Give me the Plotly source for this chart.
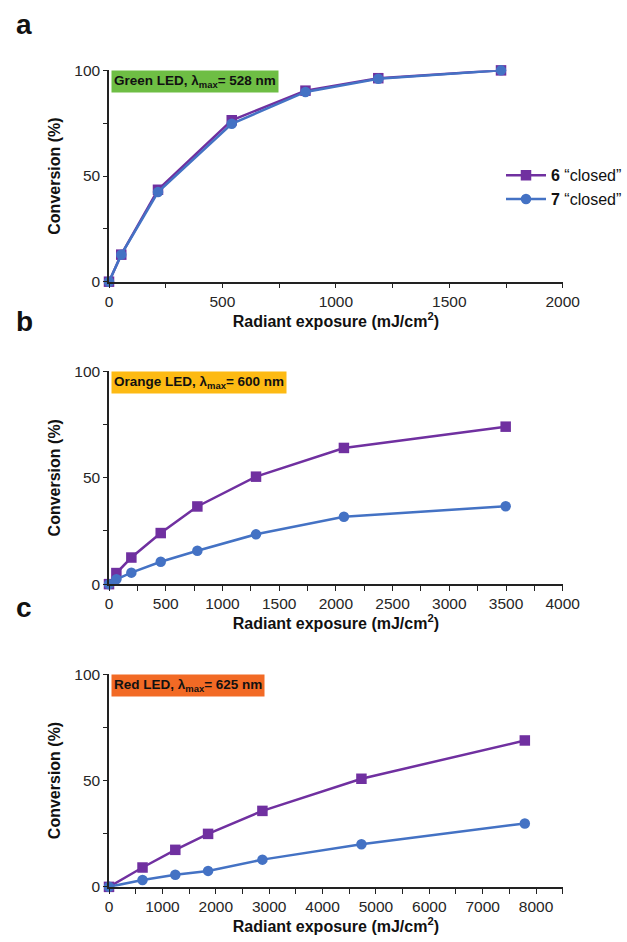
import plotly.graph_objects as go

# ---- data ----
a_x = [0, 54, 216, 541, 866, 1187, 1728]
a_6 = [0, 12.8, 43.5, 76.4, 90.4, 96.3, 100]
a_7 = [0, 12.8, 42.4, 74.7, 89.8, 96.0, 100]

b_x = [0, 65, 197, 456, 779, 1296, 2071, 3497]
b_6 = [0, 5.2, 12.5, 24.0, 36.5, 50.5, 64.0, 74.0]
b_7 = [0, 2.3, 5.4, 10.5, 15.7, 23.4, 31.7, 36.6]

c_x = [0, 628, 1242, 1856, 2874, 4729, 7790]
c_6 = [0, 9.1, 17.4, 24.9, 35.7, 50.8, 68.8]
c_7 = [0, 3.2, 5.7, 7.5, 12.8, 20.0, 29.8]

series_names = ["<b>6</b> \u201cclosed\u201d", "<b>7</b> \u201cclosed\u201d"]
panel_letters = ["a", "b", "c"]
box_labels = ["Green LED, \u03bb<sub>max</sub>= 528 nm",
              "Orange LED, \u03bb<sub>max</sub>= 600 nm",
              "Red LED, \u03bb<sub>max</sub>= 625 nm"]
box_colors = ["#6EBE44", "#FDBA13", "#F26A25"]
x_ranges = [[0, 2000], [0, 4000], [0, 8500]]
x_major = [500, 500, 1000]
x_minor = [250, 250, 500]

PURPLE = "#7030A0"
BLUE = "#4472C4"
FONT = "Liberation Sans, Arial, sans-serif"
TXT = "#262626"

W, H = 627, 942
xdom = [109 / W, 580 / W]
ydoms = [[1 - 277.7 / H, 1 - 62.5 / H],
         [1 - 585.7 / H, 1 - 369.0 / H],
         [1 - 894.0 / H, 1 - 677.3 / H]]

fig = go.Figure()
panels = [(a_x, a_6, a_7), (b_x, b_6, b_7), (c_x, c_6, c_7)]
for i, (xs, s6, s7) in enumerate(panels):
    xa = "x" if i == 0 else f"x{i+1}"
    ya = "y" if i == 0 else f"y{i+1}"
    fig.add_trace(go.Scatter(x=xs, y=s6, mode="lines+markers", name=series_names[0],
                             line=dict(color=PURPLE, width=2.5),
                             marker=dict(symbol="square", size=10.5, color=PURPLE),
                             xaxis=xa, yaxis=ya, showlegend=(i == 0), cliponaxis=False))
    fig.add_trace(go.Scatter(x=xs, y=s7, mode="lines+markers", name=series_names[1],
                             line=dict(color=BLUE, width=2.5),
                             marker=dict(symbol="circle", size=10.5, color=BLUE),
                             xaxis=xa, yaxis=ya, showlegend=(i == 0), cliponaxis=False))

axis_common = dict(showgrid=False, zeroline=False, showline=True, linecolor="#222",
                   linewidth=1.5, ticks="outside", tickcolor="#222", tickwidth=1.2,
                   tickfont=dict(family=FONT, size=15.5, color=TXT))
for i in range(3):
    xk = "xaxis" if i == 0 else f"xaxis{i+1}"
    yk = "yaxis" if i == 0 else f"yaxis{i+1}"
    xa_anchor = "y" if i == 0 else f"y{i+1}"
    ya_anchor = "x" if i == 0 else f"x{i+1}"
    fig.update_layout(**{
        xk: dict(axis_common, domain=xdom, anchor=xa_anchor, range=x_ranges[i],
                 dtick=x_major[i], tick0=0, ticklen=5,
                 minor=dict(dtick=x_minor[i], tick0=0, ticks="outside", ticklen=5,
                            tickcolor="#222", tickwidth=1.2, showgrid=False),
                 title=dict(text="<b>Radiant exposure (mJ/cm<sup>2</sup>)</b>",
                            font=dict(family=FONT, size=16, color="#111"), standoff=4)),
        yk: dict(axis_common, domain=ydoms[i], anchor=ya_anchor, range=[0, 100],
                 dtick=50, tick0=0, ticklen=4,
                 minor=dict(dtick=25, tick0=0, ticks="outside", ticklen=4,
                            tickcolor="#222", tickwidth=1.2, showgrid=False),
                 title=dict(text="<b>Conversion (%)</b>",
                            font=dict(family=FONT, size=16, color="#111"), standoff=10)),
    })
    # colored condition box
    fig.add_annotation(xref=ya_anchor, yref=xa_anchor, x=0, y=100,
                       xanchor="left", yanchor="top", xshift=2, yshift=0,
                       text="<b>" + box_labels[i] + "</b>", showarrow=False,
                       bgcolor=box_colors[i], borderpad=2,
                       font=dict(family=FONT, size=13.5, color="#111"))

letter_y = [16, 318, 610]
for i, L in enumerate(panel_letters):
    fig.add_annotation(xref="paper", yref="paper", x=21 / W, y=1 - letter_y[i] / H,
                       xanchor="center", yanchor="middle", text="<b>" + L + "</b>",
                       showarrow=False, font=dict(family=FONT, size=28, color="#111"))

fig.update_layout(
    width=W, height=H, margin=dict(l=0, r=0, t=0, b=0),
    paper_bgcolor="white", plot_bgcolor="white",
    showlegend=True,
    legend=dict(x=516 / W, y=1 - 152 / H, xanchor="left", yanchor="top",
                bgcolor="rgba(0,0,0,0)", tracegroupgap=0, itemwidth=40,
                font=dict(family=FONT, size=16, color="#111")),
)

fig.write_html("out.html", config={"displayModeBar": False},
               post_script="document.body.style.margin='0';")
